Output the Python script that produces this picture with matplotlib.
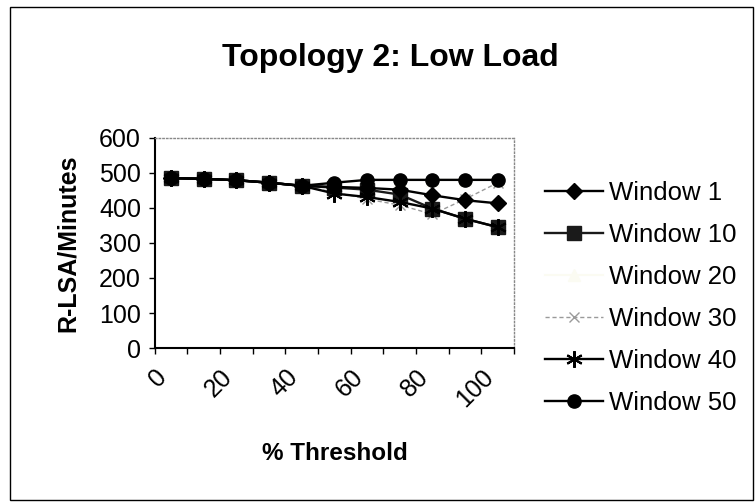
import matplotlib
matplotlib.use("Agg")
import matplotlib.pyplot as plt
from matplotlib.patches import Rectangle
from matplotlib.ticker import MultipleLocator

plt.rcParams['font.family'] = ['Liberation Sans', 'DejaVu Sans']

# % threshold positions
threshold = [5, 15, 25, 35, 45, 55, 65, 75, 85, 95, 105]

window_1 = [485, 483, 479, 472, 463, 460, 457, 452, 436, 422, 413]
window_10 = [485, 483, 479, 472, 463, 458, 452, 438, 398, 369, 345]
window_20 = [485, 483, 479, 472, 463, 472, 480, 480, 480, 480, 480]
window_30 = [485, 483, 479, 472, 463, 445, 425, 408, 382, 425, 472]
window_40 = [485, 483, 479, 472, 463, 441, 431, 417, 398, 369, 345]
window_50 = [485, 483, 479, 472, 463, 472, 480, 480, 480, 480, 480]

labels = ["Window 1", "Window 10", "Window 20",
          "Window 30", "Window 40", "Window 50"]

fig = plt.figure(figsize=(7.55, 5.03), dpi=100)
ax = fig.add_axes([0.205, 0.308, 0.476, 0.418])

# the yellow series almost vanished in the scan
ax.plot(threshold, window_20, color="#fbfbf2", lw=1.5, marker="^", ms=8,
        label=labels[2], zorder=1)
ax.plot(threshold, window_30, color="#9a9a9a", lw=1.0, ls=(0, (3, 2)),
        marker="x", ms=7, mew=1.0, label=labels[3], zorder=2)
ax.plot(threshold, window_10, color="#1a1a1a", lw=1.7, marker="s", ms=9.5,
        label=labels[1], zorder=3)
ax.plot(threshold, window_40, color="black", lw=1.7, marker=(6, 2, 0),
        ms=12, mew=1.5, label=labels[4], zorder=4)
ax.plot(threshold, window_1, color="black", lw=1.7, marker="D", ms=8.5,
        label=labels[0], zorder=5)
ax.plot(threshold, window_50, color="black", lw=1.7, marker="o", ms=9.5,
        label=labels[5], zorder=6)

ax.set_xlim(0, 110)
ax.set_ylim(0, 600)
ax.xaxis.set_minor_locator(MultipleLocator(10))
ax.yaxis.set_major_locator(MultipleLocator(100))
ax.set_xticks(range(0, 101, 20))

ax.tick_params(axis="both", which="both", direction="out", length=4,
               width=1, labelsize=18)
ax.tick_params(axis="y", pad=6)
ax.tick_params(axis="x", pad=8)
for lab in ax.get_xticklabels():
    lab.set_rotation(45)
    lab.set_ha("right")
    lab.set_va("top")
    lab.set_rotation_mode("anchor")

for side in ("left", "bottom"):
    ax.spines[side].set_linewidth(1.5)
for side in ("top", "right"):
    ax.spines[side].set_color("#888888")
    ax.spines[side].set_linestyle(":")
    ax.spines[side].set_linewidth(1.0)

ax.set_ylabel("R-LSA/Minutes", fontsize=18, fontweight="bold", labelpad=14)
fig.text(0.444, 0.099, "% Threshold", fontsize=17.5, fontweight="bold",
         ha="center", va="center")
fig.text(0.517, 0.885, "Topology 2: Low Load", fontsize=23,
         fontweight="bold", ha="center", va="center")

handles, labs = ax.get_legend_handles_labels()
order = [labs.index(l) for l in labels]
fig.legend([handles[i] for i in order], [labs[i] for i in order],
           loc="upper left", bbox_to_anchor=(0.722, 0.640), frameon=False,
           fontsize=18.5, handlelength=2.25, handletextpad=0.25,
           labelspacing=0.7, borderpad=0, borderaxespad=0)

# outer chart border
fig.add_artist(Rectangle((0.013, 0.006), 0.984, 0.98, transform=fig.transFigure,
                         fill=False, lw=1.0, ec="black"))

fig.savefig("out.png", dpi=100)
